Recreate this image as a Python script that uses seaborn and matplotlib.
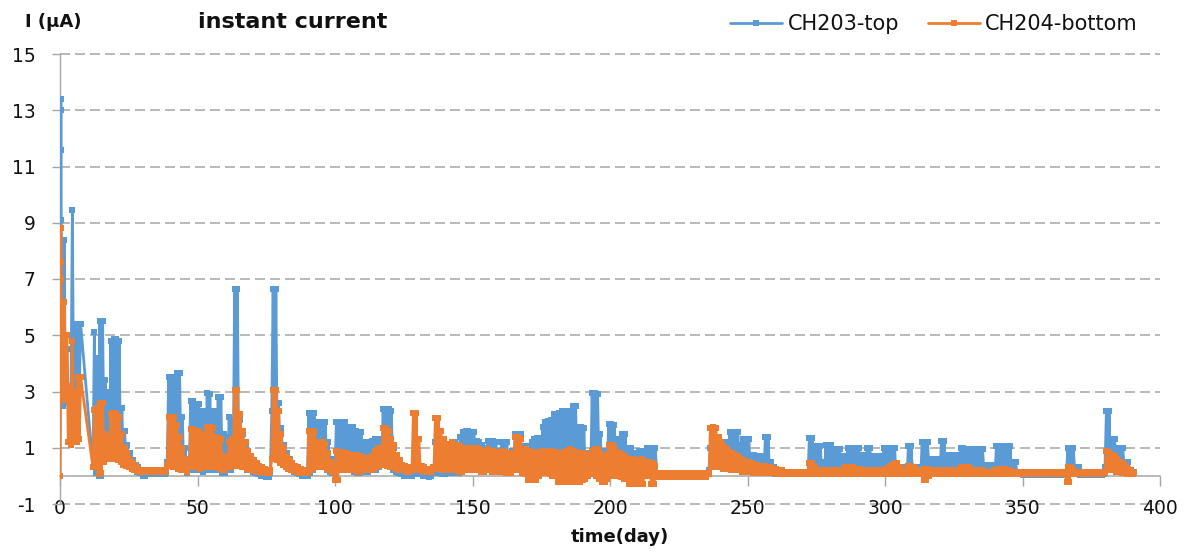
import matplotlib
matplotlib.use("Agg")
import matplotlib.pyplot as plt
from matplotlib.lines import Line2D
import pandas as pd
import seaborn as sns

# ---- data -------------------------------------------------------------
channels = ["CH203-top", "CH204-bottom"]
colors = ["#5B9BD5", "#ED7D31"]

# switch-on transient (day fractions)
start_days = [0.0, 0.3, 0.35, 0.4, 0.45]
top_start = [0.0, 13.4, 13.0, 11.6, 9.1]
bottom_start = [0.0, 8.8, 7.6, 7.0, 5.8]

# daily readings: a low reading followed by a high reading each day
days = [*range(1, 8), *range(12, 391)]

top_peak = [
    8.4, 4.5, 3.0, 9.45, 5.4, 5.4, 5.4,                       # 1-7
    5.1, 4.2, 5.5, 5.5, 3.4, 3.0, 4.8, 4.85,                  # 12-19
    4.85, 4.8, 2.4, 1.6, 1.1, 0.8, 0.55, 0.4, 0.3, 0.2,       # 20-29
    0.15, 0.1, 0.1, 0.1, 0.1, 0.1, 0.1, 0.1, 0.1, 3.5,        # 30-39
    3.5, 3.5, 3.65, 3.65, 2.1, 1.0, 0.5, 2.65, 2.65, 2.55,    # 40-49
    2.55, 2.3, 2.3, 2.95, 2.9, 2.3, 2.3, 2.8, 2.8, 1.5,       # 50-59
    1.4, 2.1, 2.0, 6.64, 6.64, 2.0, 1.5, 1.1, 0.8, 0.6,       # 60-69
    0.45, 0.35, 0.3, 0.2, 0.15, 0.1, 0.1, 6.64, 6.64, 2.6,    # 70-79
    1.7, 1.1, 0.8, 0.6, 0.45, 0.35, 0.3, 0.2, 0.15, 0.1,      # 80-89
    2.25, 2.25, 2.25, 1.9, 1.9, 1.9, 1.9, 1.2, 0.6, 0.45,     # 90-99
    1.9, 1.9, 1.9, 1.9, 1.75, 1.75, 1.75, 1.6, 1.55, 1.55,    # 100-109
    1.2, 1.2, 1.2, 1.25, 1.3, 1.3, 1.3, 2.38, 2.38, 2.38,     # 110-119
    2.3, 1.0, 0.6, 0.4, 0.3, 0.2, 0.15, 0.1, 0.1, 0.1,        # 120-129
    0.1, 0.1, 0.1, 0.1, 0.1, 0.15, 1.2, 1.2, 1.1, 1.1,        # 130-139
    1.15, 1.15, 1.2, 1.2, 1.1, 1.4, 1.55, 1.6, 1.6, 1.55,     # 140-149
    1.55, 1.25, 1.2, 1.1, 1.0, 1.25, 1.25, 1.25, 1.2, 0.9,    # 150-159
    1.2, 1.2, 1.2, 0.8, 0.9, 1.5, 1.5, 1.5, 1.05, 1.05,       # 160-169
    1.05, 1.2, 1.3, 1.35, 1.35, 1.75, 1.9, 1.95, 2.0, 2.2,    # 170-179
    2.2, 2.25, 2.3, 2.3, 2.3, 2.3, 2.5, 2.5, 1.75, 1.75,      # 180-189
    1.7, 0.8, 0.8, 2.95, 2.95, 2.9, 1.5, 0.9, 0.9, 1.85,      # 190-199
    1.85, 1.8, 1.3, 1.3, 1.5, 1.5, 1.0, 1.0, 0.8, 0.8,        # 200-209
    0.9, 0.9, 0.9, 1.0, 1.0, 1.0, 1.0, 0.05, 0.05, 0.05,      # 210-219
    0.05, 0.05, 0.05, 0.05, 0.05, 0.05, 0.05, 0.05, 0.05, 0.05,  # 220-229
    0.05, 0.05, 0.05, 0.05, 0.05, 0.05, 1.0, 1.0, 1.1, 1.15,  # 230-239
    1.1, 1.1, 1.2, 1.57, 1.57, 1.57, 1.57, 1.1, 1.3, 1.3,     # 240-249
    1.3, 0.75, 0.75, 0.7, 0.7, 0.7, 1.4, 1.4, 0.5, 0.3,       # 250-259
    0.2, 0.15, 0.12, 0.1, 0.1, 0.1, 0.1, 0.1, 0.1, 0.1,       # 260-269
    0.1, 0.1, 1.35, 1.35, 1.05, 1.05, 1.05, 0.5, 1.1, 1.1,    # 270-279
    1.1, 0.95, 0.95, 0.95, 0.7, 0.7, 1.0, 1.0, 1.0, 1.0,      # 280-289
    1.0, 0.75, 0.75, 1.0, 1.0, 0.7, 0.7, 0.7, 0.7, 1.0,       # 290-299
    1.0, 1.0, 1.0, 1.0, 0.3, 0.3, 0.3, 0.3, 1.05, 1.05,       # 300-309
    0.3, 0.3, 0.3, 1.2, 1.2, 1.2, 0.6, 0.6, 0.6, 0.6,         # 310-319
    1.25, 1.25, 0.75, 0.75, 0.75, 0.75, 0.75, 1.0, 1.0, 0.95,  # 320-329
    0.95, 0.95, 0.95, 0.95, 0.95, 0.95, 0.4, 0.4, 0.4, 0.4,   # 330-339
    1.05, 1.05, 1.05, 1.05, 1.05, 1.05, 0.5, 0.5, 0.1, 0.1,   # 340-349
    0.1, 0.1, 0.1, 0.1, 0.1, 0.1, 0.1, 0.05, 0.05, 0.05,      # 350-359
    0.05, 0.05, 0.05, 0.05, 0.05, 0.05, 1.0, 1.0, 1.0, 0.3,   # 360-369
    0.3, 0.05, 0.05, 0.05, 0.05, 0.05, 0.05, 0.05, 0.05, 0.05,  # 370-379
    2.3, 2.3, 1.3, 1.3, 1.0, 1.0, 1.0, 0.5, 0.5, 0.2,         # 380-389
    0.15,                                                     # 390
]

top_base = [
    2.5, 2.6, 2.8, 2.9, 1.5, 1.5, 3.0,                        # 1-7
    0.3, 0.1, 0.0, 0.0, 0.6, 0.7, 0.7, 0.8,                   # 12-19
    0.8, 0.7, 0.6, 0.5, 0.4, 0.3, 0.25, 0.2, 0.15, 0.1,       # 20-29
    0.0, 0.0, 0.05, 0.05, 0.05, 0.05, 0.05, 0.05, 0.05, 0.5,  # 30-39
    0.4, 0.4, 0.4, 0.3, 0.3, 0.2, 0.1, 0.2, 0.2, 0.2,         # 40-49
    0.2, 0.2, 0.15, 0.2, 0.2, 0.2, 0.2, 0.2, 0.2, 0.1,        # 50-59
    0.1, 0.2, 0.2, 0.5, 0.4, 0.4, 0.3, 0.3, 0.2, 0.2,         # 60-69
    0.15, 0.1, 0.05, 0.0, 0.0, -0.05, -0.05, 2.3, 0.65, 0.6,  # 70-79
    0.5, 0.4, 0.3, 0.25, 0.2, 0.15, 0.1, 0.05, 0.0, 0.0,      # 80-89
    0.0, 0.1, 0.2, 0.3, 0.3, 0.3, 0.3, 0.2, 0.15, 0.1,        # 90-99
    0.2, 0.2, 0.2, 0.2, 0.2, 0.2, 0.2, 0.15, 0.1, 0.1,        # 100-109
    0.15, 0.15, 0.15, 0.2, 0.2, 0.2, 0.3, 0.5, 0.5, 0.4,      # 110-119
    0.3, 0.2, 0.15, 0.1, 0.05, 0.0, 0.0, 0.0, 0.0, 0.05,      # 120-129
    0.05, 0.05, 0.0, 0.0, -0.05, 0.0, 0.1, 0.1, 0.1, 0.05,    # 130-139
    0.05, 0.1, 0.1, 0.1, 0.1, 0.1, 0.15, 0.2, 0.2, 0.2,       # 140-149
    0.2, 0.2, 0.2, 0.15, 0.15, 0.2, 0.2, 0.2, 0.15, 0.15,     # 150-159
    0.2, 0.2, 0.15, 0.1, 0.1, 0.2, 0.2, 0.2, 0.15, 0.15,      # 160-169
    0.1, 0.1, 0.1, 0.15, 0.15, 0.2, 0.2, 0.7, 0.2, 0.2,       # 170-179
    0.2, 0.2, 0.2, 0.2, 0.7, 0.2, 0.2, 0.2, 0.2, 0.15,        # 180-189
    0.15, 0.1, 0.1, 0.2, 0.2, 0.2, 0.15, 0.1, 0.1, 0.15,      # 190-199
    0.15, 0.15, 0.1, 0.1, 0.1, 0.1, 0.1, 0.1, 0.05, 0.05,     # 200-209
    0.0, 0.0, 0.0, 0.0, 0.0, 0.05, 0.0, 0.0, 0.0, 0.0,        # 210-219
    0.0, 0.0, 0.0, 0.0, 0.0, 0.0, 0.0, 0.0, 0.0, 0.0,         # 220-229
    0.0, 0.0, 0.0, 0.0, 0.0, 0.0, 0.2, 0.3, 0.3, 0.3,         # 230-239
    0.3, 0.3, 0.3, 0.3, 0.25, 0.25, 0.25, 0.2, 0.2, 0.2,      # 240-249
    0.2, 0.15, 0.15, 0.15, 0.15, 0.15, 0.15, 0.15, 0.1, 0.1,  # 250-259
    0.05, 0.05, 0.05, 0.05, 0.05, 0.05, 0.05, 0.05, 0.05, 0.05,  # 260-269
    0.05, 0.05, 0.05, 0.05, 0.05, 0.05, 0.05, 0.05, 0.05, 0.05,  # 270-279
    0.05, 0.05, 0.05, 0.05, 0.05, 0.05, 0.05, 0.05, 0.05, 0.05,  # 280-289
    0.05, 0.05, 0.05, 0.05, 0.05, 0.05, 0.05, 0.05, 0.05, 0.05,  # 290-299
    0.05, 0.05, 0.05, 0.05, 0.05, 0.05, 0.05, 0.05, 0.05, 0.05,  # 300-309
    0.05, 0.05, 0.05, 0.05, 0.05, 0.05, 0.05, 0.05, 0.05, 0.05,  # 310-319
    0.05, 0.05, 0.05, 0.05, 0.05, 0.05, 0.05, 0.05, 0.05, 0.05,  # 320-329
    0.05, 0.05, 0.05, 0.05, 0.05, 0.05, 0.05, 0.05, 0.05, 0.05,  # 330-339
    0.05, 0.05, 0.05, 0.05, 0.05, 0.05, 0.05, 0.05, 0.05, 0.05,  # 340-349
    0.03, 0.03, 0.03, 0.03, 0.03, 0.03, 0.03, 0.03, 0.03, 0.03,  # 350-359
    0.03, 0.03, 0.03, 0.03, 0.03, 0.03, 0.1, 0.1, 0.1, 0.05,     # 360-369
    0.05, 0.03, 0.03, 0.03, 0.03, 0.03, 0.03, 0.03, 0.03, 0.03,  # 370-379
    0.3, 0.3, 0.3, 0.3, 0.2, 0.2, 0.15, 0.1, 0.1, 0.05,          # 380-389
    0.05,                                                        # 390
]

bottom_peak = [
    6.2, 5.0, 3.2, 4.8, 3.0, 3.5, 3.5,                        # 1-7
    2.35, 2.4, 2.6, 2.6, 1.5, 1.4, 2.2, 2.25,                 # 12-19
    2.2, 2.1, 1.5, 1.0, 0.8, 0.6, 0.45, 0.35, 0.25, 0.2,      # 20-29
    0.2, 0.2, 0.2, 0.2, 0.2, 0.2, 0.2, 0.2, 0.2, 2.1,         # 30-39
    2.1, 2.1, 1.8, 1.4, 1.0, 0.6, 0.35, 1.65, 1.65, 1.6,      # 40-49
    1.6, 1.5, 1.5, 1.75, 1.75, 1.7, 1.4, 1.35, 1.3, 0.7,      # 50-59
    0.6, 1.2, 1.3, 3.05, 3.05, 2.2, 1.6, 1.2, 0.9, 0.7,       # 60-69
    0.55, 0.45, 0.35, 0.3, 0.25, 0.2, 0.2, 3.05, 3.05, 2.3,   # 70-79
    1.5, 1.0, 0.7, 0.55, 0.45, 0.35, 0.3, 0.25, 0.2, 0.15,    # 80-89
    1.6, 1.6, 1.55, 1.2, 1.2, 1.2, 1.15, 0.8, 0.5, 0.35,      # 90-99
    0.9, 0.85, 0.85, 0.75, 0.8, 0.75, 0.7, 0.75, 0.7, 0.7,    # 100-109
    0.65, 0.65, 0.65, 0.7, 0.9, 1.0, 1.0, 1.7, 1.7, 1.6,      # 110-119
    1.3, 1.1, 0.75, 0.55, 0.4, 0.35, 0.3, 0.25, 2.25, 2.25,   # 120-129
    1.3, 0.35, 0.3, 0.25, 0.25, 0.3, 2.05, 2.05, 1.6, 1.3,    # 130-139
    1.15, 1.15, 1.2, 1.1, 1.1, 1.05, 1.0, 1.0, 0.95, 1.0,     # 140-149
    1.0, 1.0, 0.95, 0.9, 0.85, 0.95, 0.9, 0.9, 0.85, 0.8,     # 150-159
    0.85, 0.9, 0.8, 0.7, 0.8, 1.4, 1.4, 1.3, 0.95, 0.95,      # 160-169
    0.9, 0.85, 0.85, 0.8, 0.85, 0.9, 0.85, 0.85, 0.9, 0.85,   # 170-179
    0.85, 0.8, 0.8, 0.85, 0.9, 0.95, 0.9, 0.85, 0.8, 0.8,     # 180-189
    0.8, 0.75, 0.75, 0.9, 0.95, 0.95, 0.8, 0.7, 0.75, 1.1,    # 190-199
    1.1, 1.05, 0.85, 0.8, 0.75, 0.7, 0.6, 0.6, 0.6, 0.55,     # 200-209
    0.55, 0.6, 0.5, 0.5, 0.5, 0.45, 0.35, 0.1, 0.1, 0.1,      # 210-219
    0.1, 0.1, 0.1, 0.1, 0.1, 0.1, 0.1, 0.1, 0.1, 0.1,         # 220-229
    0.1, 0.1, 0.1, 0.1, 0.1, 0.1, 1.7, 1.75, 1.7, 1.4,        # 230-239
    1.2, 1.05, 0.95, 0.85, 0.8, 0.75, 0.7, 0.6, 0.55, 0.5,    # 240-249
    0.5, 0.45, 0.4, 0.4, 0.35, 0.35, 0.35, 0.3, 0.3, 0.25,    # 250-259
    0.25, 0.2, 0.2, 0.15, 0.15, 0.15, 0.15, 0.15, 0.15, 0.15,  # 260-269
    0.15, 0.15, 0.45, 0.45, 0.3, 0.2, 0.2, 0.2, 0.2, 0.2,     # 270-279
    0.2, 0.2, 0.2, 0.2, 0.2, 0.3, 0.3, 0.3, 0.3, 0.2,         # 280-289
    0.25, 0.2, 0.2, 0.2, 0.2, 0.2, 0.2, 0.2, 0.2, 0.2,        # 290-299
    0.25, 0.3, 0.4, 0.45, 0.45, 0.3, 0.2, 0.2, 0.35, 0.35,    # 300-309
    0.3, 0.2, 0.2, 0.2, 0.25, 0.25, 0.2, 0.2, 0.2, 0.2,       # 310-319
    0.2, 0.2, 0.2, 0.2, 0.2, 0.2, 0.2, 0.3, 0.3, 0.3,         # 320-329
    0.3, 0.2, 0.2, 0.2, 0.2, 0.2, 0.15, 0.15, 0.15, 0.2,      # 330-339
    0.2, 0.25, 0.25, 0.25, 0.2, 0.2, 0.15, 0.15, 0.15, 0.15,  # 340-349
    0.15, 0.15, 0.15, 0.15, 0.15, 0.15, 0.15, 0.15, 0.15, 0.15,  # 350-359
    0.15, 0.15, 0.15, 0.15, 0.15, 0.15, 0.3, 0.3, 0.2, 0.15,     # 360-369
    0.15, 0.15, 0.15, 0.15, 0.15, 0.15, 0.15, 0.15, 0.15, 0.15,  # 370-379
    0.9, 0.85, 0.75, 0.7, 0.6, 0.5, 0.45, 0.35, 0.25, 0.2,       # 380-389
    0.1,                                                         # 390
]

bottom_base = [
    2.7, 2.8, 1.2, 1.1, 1.2, 1.2, 1.3,                        # 1-7
    0.3, 0.3, 0.05, 0.1, 0.5, 0.6, 0.6, 0.65,                 # 12-19
    0.6, 0.55, 0.5, 0.4, 0.35, 0.3, 0.25, 0.2, 0.18, 0.15,    # 20-29
    0.15, 0.15, 0.15, 0.15, 0.15, 0.15, 0.15, 0.15, 0.15, 0.4,  # 30-39
    0.35, 0.3, 0.3, 0.25, 0.2, 0.2, 0.15, 0.3, 0.3, 0.3,      # 40-49
    0.3, 0.25, 0.3, 0.3, 0.3, 0.3, 0.3, 0.3, 0.25, 0.2,       # 50-59
    0.2, 0.3, 0.3, 0.4, 0.35, 0.35, 0.3, 0.3, 0.25, 0.2,      # 60-69
    0.2, 0.18, 0.15, 0.15, 0.12, 0.12, 0.1, 0.6, 0.6, 0.55,   # 70-79
    0.45, 0.4, 0.3, 0.25, 0.2, 0.18, 0.15, 0.12, 0.1, 0.1,    # 80-89
    0.1, 0.2, 0.25, 0.3, 0.3, 0.3, 0.3, 0.25, 0.2, 0.15,      # 90-99
    -0.15, -0.15, 0.2, 0.25, 0.25, 0.2, 0.2, 0.2, 0.15, 0.15,  # 100-109
    0.2, 0.2, 0.2, 0.2, 0.25, 0.3, 0.35, 0.4, 0.4, 0.35,      # 110-119
    0.3, 0.3, 0.25, 0.2, 0.2, 0.2, 0.15, 0.15, 0.2, 0.2,      # 120-129
    0.2, 0.2, 0.18, 0.15, 0.15, 0.15, 0.25, 0.25, 0.25, 0.2,  # 130-139
    0.2, 0.2, 0.2, 0.2, 0.2, 0.15, 0.15, 0.2, 0.2, 0.2,       # 140-149
    0.2, 0.2, 0.2, 0.15, 0.15, 0.2, 0.2, 0.15, 0.15, 0.15,    # 150-159
    0.2, 0.15, 0.1, 0.1, 0.1, 0.2, 0.2, 0.2, 0.1, 0.05,       # 160-169
    -0.15, -0.15, -0.1, -0.15, 0.0, 0.1, 0.1, 0.1, 0.05, 0.0,  # 170-179
    0.0, -0.2, -0.2, -0.15, -0.2, -0.2, -0.2, -0.15, -0.2, -0.2,  # 180-189
    -0.15, -0.1, 0.0, 0.1, 0.05, 0.0, -0.1, -0.2, -0.2, -0.1,    # 190-199
    0.0, 0.0, 0.0, 0.0, -0.05, -0.1, -0.1, -0.3, -0.3, -0.25,    # 200-209
    -0.3, -0.3, -0.3, 0.0, 0.0, -0.3, -0.3, -0.05, -0.05, -0.05,  # 210-219
    -0.05, -0.05, -0.05, -0.05, -0.05, -0.05, -0.05, -0.05, -0.05, -0.05,  # 220-229
    -0.05, -0.05, -0.05, -0.05, -0.05, -0.05, 0.05, 0.3, 0.3, 0.3,        # 230-239
    0.3, 0.25, 0.25, 0.25, 0.2, 0.2, 0.2, 0.2, 0.15, 0.15,    # 240-249
    0.15, 0.15, 0.1, 0.1, 0.1, 0.1, 0.1, 0.1, 0.1, 0.1,       # 250-259
    0.1, 0.08, 0.08, 0.05, 0.05, 0.05, 0.05, 0.05, 0.05, 0.05,  # 260-269
    0.05, 0.05, 0.05, 0.05, 0.05, 0.05, 0.05, 0.05, 0.05, 0.05,  # 270-279
    0.05, 0.05, 0.05, 0.05, 0.05, 0.05, 0.05, 0.05, 0.05, 0.05,  # 280-289
    0.05, 0.05, 0.05, 0.05, 0.05, 0.05, 0.05, 0.05, 0.05, 0.05,  # 290-299
    0.05, 0.05, 0.05, 0.05, 0.05, 0.05, 0.05, 0.05, 0.05, 0.05,  # 300-309
    0.05, 0.05, 0.05, 0.05, -0.15, -0.15, 0.0, 0.05, 0.05, 0.05,  # 310-319
    0.05, 0.05, 0.05, 0.05, 0.05, 0.05, 0.05, 0.05, 0.05, 0.05,  # 320-329
    0.05, 0.05, 0.05, 0.05, 0.05, 0.05, 0.05, 0.05, 0.05, 0.05,  # 330-339
    0.05, 0.05, 0.05, 0.05, 0.05, 0.05, 0.05, 0.05, 0.05, 0.05,  # 340-349
    0.05, 0.05, 0.05, 0.05, 0.05, 0.05, 0.05, 0.05, 0.05, 0.05,  # 350-359
    0.05, 0.05, 0.05, 0.05, 0.05, 0.05, -0.2, -0.2, 0.05, 0.05,  # 360-369
    0.05, 0.05, 0.05, 0.05, 0.05, 0.05, 0.05, 0.05, 0.05, 0.05,  # 370-379
    0.1, 0.2, 0.2, 0.2, 0.15, 0.15, 0.1, 0.1, 0.05, 0.05,        # 380-389
    0.05,                                                        # 390
]

x_ticks = [0, 50, 100, 150, 200, 250, 300, 350, 400]
y_ticks = [-1, 1, 3, 5, 7, 9, 11, 13, 15]


def channel_frame(name, start_vals, base, peak):
    t = list(start_days)
    v = list(start_vals)
    for d, lo, hi in zip(days, base, peak):
        t += [d, d + 0.5]
        v += [lo, hi]
    return pd.DataFrame({"time": t, "current": v, "channel": name})


assert len(days) == len(top_peak) == len(top_base) == len(bottom_peak) == len(bottom_base)

df = pd.concat([
    channel_frame(channels[0], top_start, top_base, top_peak),
    channel_frame(channels[1], bottom_start, bottom_base, bottom_peak),
], ignore_index=True)

# ---- figure -----------------------------------------------------------
sns.set_theme(style="white")
plt.rcParams["font.family"] = ["DejaVu Sans"]
plt.rcParams["lines.scale_dashes"] = False
plt.rcParams["axes.unicode_minus"] = False

W, H = 1192, 554
fig = plt.figure(figsize=(W / 100, H / 100), dpi=100)
ax = fig.add_axes([60 / W, 1 - 504 / H, 1100 / W, 450 / H])

grid_col = "#a6a6a6"
for yv in y_ticks:
    ax.axhline(yv, color=grid_col, lw=1.1, ls=(0, (7.2, 3.6)), zorder=0, clip_on=False)

sns.lineplot(
    data=df, x="time", y="current", hue="channel", hue_order=channels,
    palette=dict(zip(channels, colors)), estimator=None, sort=False,
    marker="s", markersize=3.8, markeredgewidth=0, linewidth=2.0,
    legend=False, ax=ax, zorder=3,
)

ax.set_xlim(0, 400)
ax.set_ylim(-1, 15)
ax.set_xticks(x_ticks)
ax.set_yticks(y_ticks)
ax.set_xlabel("")
ax.set_ylabel("")
ax.grid(False)

for s in ("top", "right"):
    ax.spines[s].set_visible(False)
ax.spines["bottom"].set_position(("data", 0))
ax.spines["bottom"].set_color(grid_col)
ax.spines["bottom"].set_linewidth(1.1)
ax.spines["bottom"].set_zorder(2)
ax.spines["left"].set_color(grid_col)
ax.spines["left"].set_linewidth(1.0)

ax.tick_params(axis="x", direction="out", length=7, width=1, color=grid_col,
               pad=10, labelsize=13.5, labelcolor="#111111")
ax.tick_params(axis="y", direction="out", length=5.5, width=1, color=grid_col,
               pad=12, labelsize=13.5, labelcolor="#111111")
ax.tick_params(axis="x", which="both", bottom=True)
ax.tick_params(axis="y", which="both", left=True)

fig.text(25 / W, 1 - 22 / H, "I (μA)", ha="left", va="center",
         fontsize=13, fontweight="bold", color="#111111")
fig.text(198 / W, 1 - 22 / H, "instant current", ha="left", va="center",
         fontsize=16, fontweight="bold", color="#111111")
fig.text(620 / W, 1 - 537 / H, "time(day)", ha="center", va="center",
         fontsize=13, fontweight="bold", color="#111111")

handles = [Line2D([], [], color=c, lw=2.0, marker="s", markersize=4,
                  markeredgewidth=0) for c in colors]
fig.legend(handles, channels, loc="center right",
           bbox_to_anchor=(1138 / W, 1 - 24 / H), ncol=2, frameon=False,
           fontsize=15, handlelength=2.5, handletextpad=0.25,
           columnspacing=1.4, borderpad=0, borderaxespad=0,
           labelcolor="#111111")

fig.savefig("out.png", dpi=100)
